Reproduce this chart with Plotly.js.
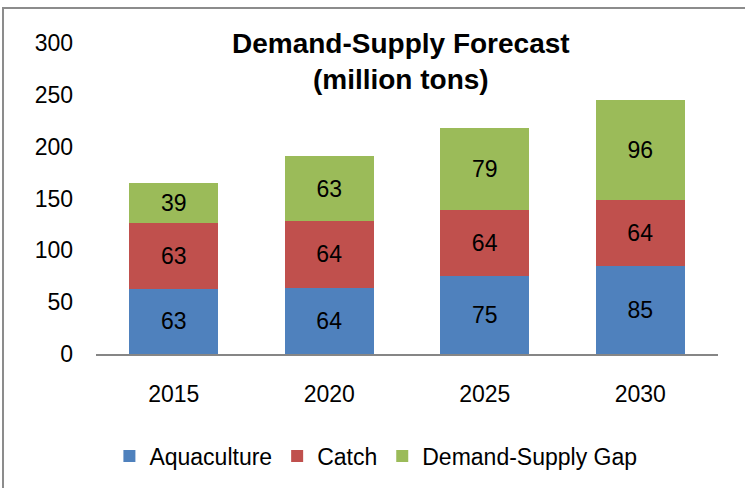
<!DOCTYPE html>
<html>
<head>
<meta charset="utf-8">
<script src="https://cdn.plot.ly/plotly-3.0.1.min.js"></script>
<style>html,body{margin:0;padding:0;background:#fff;}#chart{width:745px;height:488px;}</style>
</head>
<body>
<div id="chart"></div>
<script>
var years = ['2015', '2020', '2025', '2030'];
var aquaculture = [63, 64, 75, 85];
var catchFish = [63, 64, 64, 64];
var gap = [39, 63, 79, 96];
var seriesNames = ['Aquaculture', 'Catch', 'Demand-Supply Gap'];
var seriesColors = ['#4F81BD', '#C0504D', '#9BBB59'];
var yTicks = [0, 50, 100, 150, 200, 250, 300];

var FONT = 'Liberation Sans, Arial, sans-serif';
var FS = 23;
function bar(vals, i) {
  return {
    type: 'bar', x: years, y: vals, name: seriesNames[i],
    marker: {color: seriesColors[i], line: {width: 0}},
    text: vals.map(String), texttemplate: '%{text}',
    textposition: 'inside', insidetextanchor: 'middle', textangle: 0,
    constraintext: 'none',
    textfont: {family: FONT, size: FS, color: '#000'},
    hoverinfo: 'skip'
  };
}
var data = [bar(aquaculture, 0), bar(catchFish, 1), bar(gap, 2)];

var layout = {
  width: 745, height: 488,
  margin: {l: 96, r: 27, t: 43, b: 133, pad: 0},
  paper_bgcolor: '#fff', plot_bgcolor: '#fff',
  barmode: 'stack', bargap: 0.43,
  font: {family: FONT, size: FS, color: '#000'},
  title: {
    text: '<b>Demand-Supply Forecast<br>(million tons)</b>',
    font: {family: FONT, size: 28, color: '#000'},
    xref: 'container', x: 0.538, xanchor: 'center',
    yref: 'container', y: 0.892, yanchor: 'top'
  },
  xaxis: {
    type: 'category', showgrid: false, zeroline: false,
    showline: true, linecolor: '#868686', linewidth: 2,
    ticks: '', ticklabelstandoff: 18,
    tickfont: {family: FONT, size: FS, color: '#000'}
  },
  yaxis: {
    range: [0, 300], tickvals: yTicks, ticktext: yTicks.map(String),
    showgrid: false, zeroline: false, showline: false, ticks: '',
    ticklabelstandoff: 22,
    tickfont: {family: FONT, size: FS, color: '#000'}
  },
  showlegend: true,
  legend: {
    orientation: 'h', x: 0.45, xanchor: 'center', y: -0.324, yanchor: 'middle',
    font: {family: FONT, size: FS, color: '#000'}, traceorder: 'normal',
    bgcolor: 'rgba(0,0,0,0)'
  },
  shapes: [{
    type: 'rect', xref: 'paper', yref: 'paper',
    x0: -0.1495, x1: 1.07, y0: -0.47, y1: 1.1122,
    line: {color: '#8c8c8c', width: 2}, fillcolor: 'rgba(0,0,0,0)', layer: 'below'
  }],
  hovermode: false
};
Plotly.newPlot('chart', data, layout, {displayModeBar: false, staticPlot: true});
</script>
</body>
</html>
